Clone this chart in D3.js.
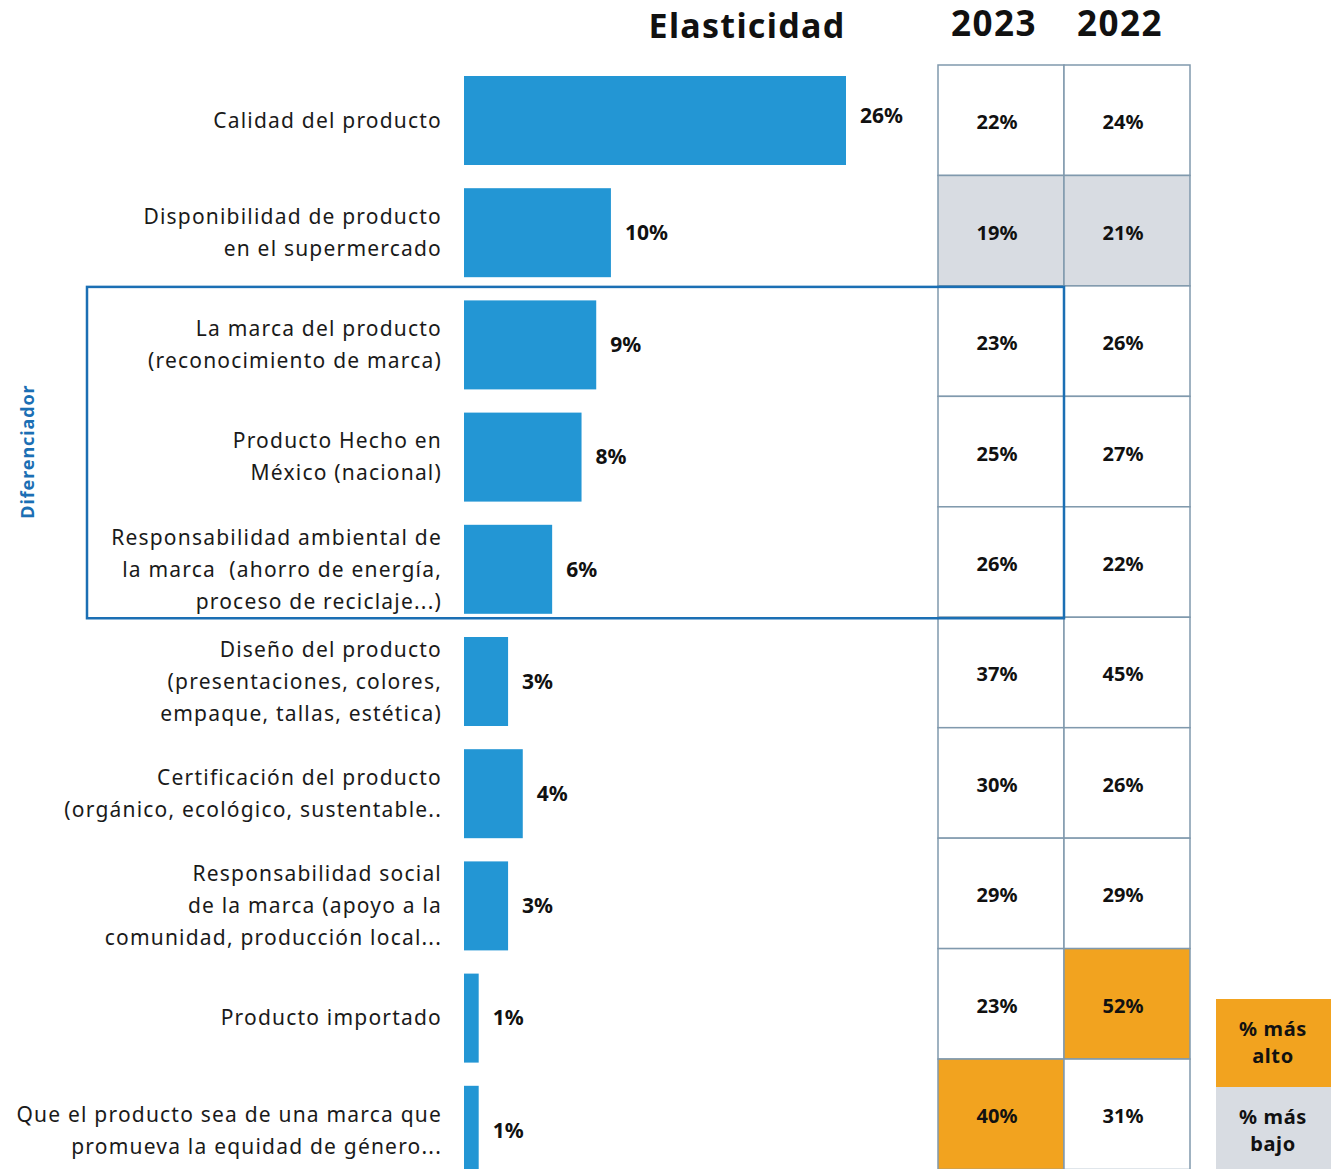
<!DOCTYPE html>
<html>
<head>
<meta charset="utf-8">
<script src="https://cdn.jsdelivr.net/npm/d3@7"></script>
<style>
  html, body { margin: 0; padding: 0; background: #fff; }
  svg { display: block; }
  text { font-family: "Noto Sans", sans-serif; }
</style>
</head>
<body>
<svg id="chart" width="1331" height="1169"></svg>
<script>
// Attribute labels (each entry is the list of wrapped lines)
const categories = [
  ["Calidad del producto"],
  ["Disponibilidad de producto", "en el supermercado"],
  ["La marca del producto", "(reconocimiento de marca)"],
  ["Producto Hecho en", "México (nacional)"],
  ["Responsabilidad ambiental de", "la marca  (ahorro de energía,", "proceso de reciclaje...)"],
  ["Diseño del producto", "(presentaciones, colores,", "empaque, tallas, estética)"],
  ["Certificación del producto", "(orgánico, ecológico, sustentable.."],
  ["Responsabilidad social", "de la marca (apoyo a la", "comunidad, producción local..."],
  ["Producto importado"],
  ["Que el producto sea de una marca que", "promueva la equidad de género..."]
];

// Elasticity (%) per attribute
const elasticidad = [26, 10, 9, 8, 6, 3, 4, 3, 1, 1];

// Share (%) per attribute by year
const years = ["2023", "2022"];
const share2023 = [22, 19, 23, 25, 26, 37, 30, 29, 23, 40];
const share2022 = [24, 21, 26, 27, 22, 45, 26, 29, 52, 31];

// Rows grouped under the "Diferenciador" bracket
const diferenciadorRows = [2, 4];

const legendLabels = [["% más", "alto"], ["% más", "bajo"]];

const colors = {
  bar: "#2396d4",
  box: "#1b6fb4",
  grid: "#8099ad",
  high: "#f2a31f",
  low: "#d8dce2",
  text: "#1a1a1a"
};

const svg = d3.select("#chart");
const idx = d3.range(categories.length);

// Bar area: bars step 112.2px, 89px thick
const barX0 = 464;
const barStep = 112.2, barThick = 89;
const x = d3.scaleLinear().domain([0, 26]).range([barX0, barX0 + 382]);
const yBar = d3.scaleBand().domain(idx)
  .range([76, 76 + barStep * (idx.length - 1) + barThick])
  .paddingInner(1 - barThick / barStep).paddingOuter(0);

// Table area
const tableX = d3.scaleBand().domain(years).range([938, 1190]);
const yRow = d3.scaleBand().domain(idx).range([65, 65 + 110.45 * idx.length]);

// Title and year headers
svg.append("text")
  .attr("x", 747).attr("y", 38)
  .attr("text-anchor", "middle")
  .attr("font-size", 34).attr("font-weight", 700)
  .attr("letter-spacing", 1.3)
  .attr("fill", "#111")
  .text("Elasticidad");

svg.selectAll("text.year").data(years).join("text")
  .attr("class", "year")
  .attr("x", d => tableX(d) + tableX.bandwidth() / 2 - 7)
  .attr("y", 36)
  .attr("text-anchor", "middle")
  .attr("font-size", 35).attr("font-weight", 700)
  .attr("letter-spacing", 1.5)
  .attr("fill", "#111")
  .text(d => d);

// Category labels, right-aligned against the bars
const lineH = 32;
svg.selectAll("text.cat").data(idx).join("text")
  .attr("class", "cat")
  .attr("text-anchor", "end")
  .attr("font-size", 21)
  .attr("letter-spacing", 1.2)
  .attr("fill", colors.text)
  .attr("xml:space", "preserve")
  .each(function (i) {
    const lines = categories[i];
    const cy = yBar(i) + yBar.bandwidth() / 2;
    const first = cy - (lines.length - 1) * lineH / 2;
    d3.select(this).selectAll("tspan").data(lines).join("tspan")
      .attr("x", 442)
      .attr("y", (d, k) => first + k * lineH)
      .attr("dy", "0.35em")
      .style("white-space", "pre")
      .text(d => d);
  });

// Bars
svg.selectAll("rect.bar").data(idx).join("rect")
  .attr("class", "bar")
  .attr("x", x(0))
  .attr("y", i => yBar(i))
  .attr("width", i => x(elasticidad[i]) - x(0))
  .attr("height", yBar.bandwidth())
  .attr("fill", colors.bar);

// Bar value labels
svg.selectAll("text.val").data(idx).join("text")
  .attr("class", "val")
  .attr("x", i => x(elasticidad[i]) + 14)
  .attr("y", i => yBar(i) + yBar.bandwidth() / 2 - (i === 0 ? 5 : 0))
  .attr("dy", "0.35em")
  .attr("font-size", 21).attr("font-weight", 700)
  .attr("fill", "#111")
  .text(i => elasticidad[i] + "%");

// Table cells: highest share per year in orange, lowest in grey
const tableData = { "2023": share2023, "2022": share2022 };
const cells = [];
years.forEach(yr => {
  const vals = tableData[yr];
  const hi = d3.max(vals), lo = d3.min(vals);
  vals.forEach((v, i) => cells.push({ yr, i, v, fill: v === hi ? colors.high : v === lo ? colors.low : "#fff" }));
});

svg.selectAll("rect.cell").data(cells).join("rect")
  .attr("class", "cell")
  .attr("x", d => tableX(d.yr))
  .attr("y", d => yRow(d.i))
  .attr("width", tableX.bandwidth())
  .attr("height", yRow.bandwidth())
  .attr("fill", d => d.fill)
  .attr("stroke", colors.grid)
  .attr("stroke-width", 1.5);

svg.selectAll("text.cellval").data(cells).join("text")
  .attr("class", "cellval")
  .attr("x", d => tableX(d.yr) + tableX.bandwidth() / 2 - 4)
  .attr("y", d => yRow(d.i) + yRow.bandwidth() / 2 + 2)
  .attr("dy", "0.35em")
  .attr("text-anchor", "middle")
  .attr("font-size", 20).attr("font-weight", 700)
  .attr("fill", "#111")
  .text(d => d.v + "%");

// "Diferenciador" bracket box
const [r0, r1] = diferenciadorRows;
svg.append("rect")
  .attr("x", 87)
  .attr("y", yRow(r0) + 1)
  .attr("width", tableX("2023") + tableX.bandwidth() - 87)
  .attr("height", yRow(r1) + yRow.bandwidth() - yRow(r0))
  .attr("fill", "none")
  .attr("stroke", colors.box)
  .attr("stroke-width", 2.5);

svg.append("text")
  .attr("transform", `translate(34, ${(yRow(r0) + yRow(r1) + yRow.bandwidth()) / 2}) rotate(-90)`)
  .attr("text-anchor", "middle")
  .attr("font-size", 18).attr("font-weight", 700)
  .attr("letter-spacing", 0.9)
  .attr("fill", colors.box)
  .text("Diferenciador");

// Legend
const legY = d3.scaleBand().domain([0, 1]).range([999, 999 + 88 * 2]);
const legFill = [colors.high, colors.low];
svg.selectAll("rect.leg").data([0, 1]).join("rect")
  .attr("class", "leg")
  .attr("x", 1216).attr("y", d => legY(d))
  .attr("width", 115).attr("height", legY.bandwidth())
  .attr("fill", d => legFill[d]);

svg.selectAll("text.leg").data([0, 1]).join("text")
  .attr("class", "leg")
  .attr("text-anchor", "middle")
  .attr("font-size", 20).attr("font-weight", 700)
  .attr("letter-spacing", 0.6)
  .attr("fill", "#111")
  .each(function (d) {
    d3.select(this).selectAll("tspan").data(legendLabels[d]).join("tspan")
      .attr("x", 1273)
      .attr("y", (t, k) => legY(d) + 30 + k * 27)
      .attr("dy", "0.35em")
      .text(t => t);
  });
</script>
</body>
</html>
